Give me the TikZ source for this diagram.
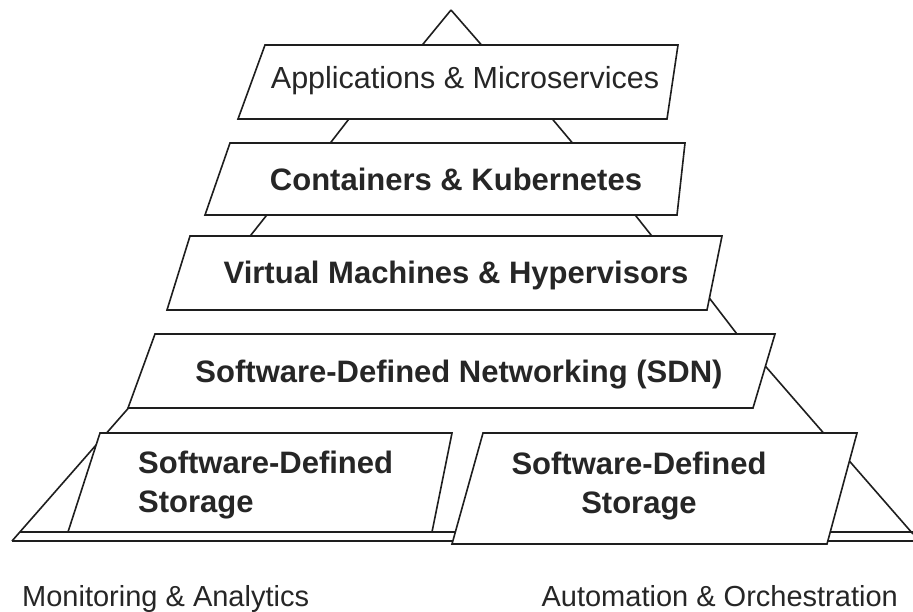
\documentclass[tikz,border=0pt]{standalone}
\usepackage{fontspec}
\setmainfont{Liberation Sans}
\definecolor{ink}{HTML}{1E1E1E}
\definecolor{txt}{HTML}{262626}
\begin{document}
\begin{tikzpicture}[x=1pt,y=-1pt,
  edge/.style={line width=1.6pt, draw=ink, line join=miter},
  layer/.style={edge, fill=white},
  plainlabel/.style={text=txt, inner sep=0pt, font=\fontsize{30.5}{39}\selectfont},
  boldlabel/.style={text=txt, inner sep=0pt, font=\fontsize{31}{39}\selectfont\bfseries},
  footlabel/.style={text=txt, inner sep=0pt, font=\fontsize{29}{36}\selectfont}]
\useasboundingbox[fill=white] (0,0) rectangle (913,611);

% pyramid outline, drawn behind the layers
\draw[edge] (451,10) -- (419,49);
\draw[edge] (451,10) -- (485,49);
\draw[edge] (352,115) -- (328,146);
\draw[edge] (549,115) -- (575,146);
\draw[edge] (270,211) -- (247,240);
\draw[edge] (632,211) -- (655,240);
\draw[edge] (707,295) -- (740,338);
\draw[edge] (760,360) -- (827,437);
\draw[edge] (132,404) -- (12,541);
\draw[edge] (845,456) -- (913,534);
% base
\draw[edge] (20,532) -- (913,532);
\draw[edge] (12,541) -- (913,541);

% layers
\draw[layer] (265,45) -- (678,45) -- (667,119) -- (238,119) -- cycle;
\draw[layer] (230,143) -- (685,143) -- (677,215) -- (205,215) -- cycle;
\draw[layer] (190,236) -- (722,236) -- (707,310) -- (167,310) -- cycle;
\draw[layer] (155,334) -- (775,334) -- (753,408) -- (128,408) -- cycle;
\draw[layer] (100,433) -- (452,433) -- (432,532) -- (68,532) -- cycle;
\draw[layer] (483,433) -- (857,433) -- (827,544) -- (452,544) -- cycle;

% layer labels (two-line labels are anchored on their last baseline)
\node[plainlabel, anchor=base] (apps) at (465,88) {Applications \& Microservices};
\node[boldlabel, anchor=base] (cont) at (456,190) {Containers \& Kubernetes};
\node[boldlabel, anchor=base] (vm) at (456,283) {Virtual Machines \& Hypervisors};
\node[boldlabel, anchor=base] (sdn) at (459,382) {Software-Defined Networking (SDN)};
\node[boldlabel, anchor=base west, align=left] (sdsl) at (138,512) {Software-Defined\\Storage};
\node[boldlabel, anchor=base, align=center] (sdsr) at (639,513) {Software-Defined\\Storage};

% footer labels
\node[footlabel, anchor=base west] (mon) at (22,606) {Monitoring \& Analytics};
\node[footlabel, anchor=base east] (auto) at (898,606) {Automation \& Orchestration};
\end{tikzpicture}
\end{document}
